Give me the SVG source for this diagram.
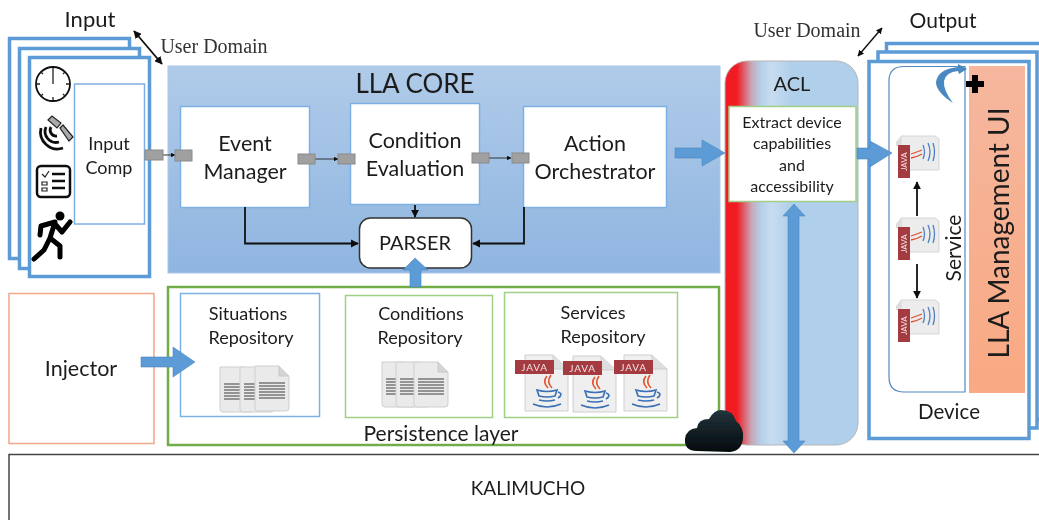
<svg xmlns="http://www.w3.org/2000/svg" width="1039" height="520" viewBox="0 0 1039 520">
<style>
text{font-family:Lato,"Liberation Sans",sans-serif;fill:#1c1c1c;text-anchor:middle}
.s{font-family:"Liberation Serif",serif;font-size:20px;fill:#333}
.frame{fill:#fff;stroke:#5b9bd5;stroke-width:3.5}
.box{fill:#fff;stroke:#7db0e4;stroke-width:1.5}
.grn{fill:#fff;stroke:#a0cf88;stroke-width:1.5}
.port{fill:#a0a0a0;stroke:#8a8a8a;stroke-width:1}
.big{fill:#5b9bd5;stroke:#4a88c0;stroke-width:.6}
.ln{fill:none;stroke:#111;stroke-width:1.8}
.thin{fill:none;stroke:#333;stroke-width:1}
.t21{font-size:21.500px}.t18{font-size:18px}
</style>
<defs>
<filter id="soft" x="0" y="0" width="100%" height="100%"><feGaussianBlur stdDeviation="0.45"/></filter>
<linearGradient id="core" x1="0" y1="0" x2="0" y2="1"><stop offset="0" stop-color="#b0cbe9"/><stop offset="1" stop-color="#8fb5e0"/></linearGradient>
<linearGradient id="acl" x1="0" y1="0" x2="1" y2="0"><stop offset="0" stop-color="#f01c24"/><stop offset=".09" stop-color="#f01c24"/><stop offset=".2" stop-color="#c8a8b8"/><stop offset=".27" stop-color="#b4d0ea"/><stop offset=".35" stop-color="#c8dcef"/><stop offset=".5" stop-color="#b0cfea"/><stop offset="1" stop-color="#b0cfea"/></linearGradient>
<linearGradient id="ui" x1="0" y1="0" x2="0" y2="1"><stop offset="0" stop-color="#f5b79e"/><stop offset="1" stop-color="#f9a983"/></linearGradient>
<linearGradient id="cloud" x1="0" y1="0" x2="0" y2="1"><stop offset="0" stop-color="#22343c"/><stop offset="1" stop-color="#050a0d"/></linearGradient>
<marker id="a" viewBox="0 0 10 10" refX="9" refY="5" markerWidth="4.500" markerHeight="4.500" orient="auto-start-reverse"><path d="M0 0L10 5L0 10z" fill="#111"/></marker>
<g id="doc"><path d="M0 0H24L34 10V42Q34 45 31 45H3Q0 45 0 42z" fill="#eaeaea" stroke="#cfcfcf"/><path d="M4 17H30M4 20H30M4 23H30M4 26H30M4 29H30M4 32H30" stroke="#777" stroke-width="1.600"/><path d="M24 0V10H34" fill="#d5d5d5" stroke="#c8c8c8"/></g>
<g id="jlarge"><path d="M10 0H38L53 14V56H10z" fill="#efefef" stroke="#cfcfcf"/><path d="M38 0V14H53" fill="#dedede" stroke="#cfcfcf"/><rect x="0" y="5" width="39" height="14" fill="#a33a3f"/><text x="19.500" y="16" style="font-size:10px;fill:#f3e3e3;letter-spacing:.8px">JAVA</text><path d="M32 21Q27 27 33 33M36 20Q31 27 37 33" fill="none" stroke="#e0532f" stroke-width="1.600"/><path d="M22 35Q32 38 42 35L40 41Q32 43 24 41zM24 45Q32 47 40 45M43 37Q49 39 43 43M18 49Q32 55 46 49" fill="none" stroke="#3a6fb5" stroke-width="1.600"/></g>
<g id="jsmall"><path d="M6 0H40L44 3V34H6z" fill="#ececec" stroke="#d5d5d5"/><path d="M6 0L1 6V10H6z" fill="#dcdcdc"/><rect x="3" y="9" width="12" height="33" fill="#a33a3f"/><text transform="translate(12 35) rotate(-90)" style="font-size:8px;fill:#f3e3e3;text-anchor:start">JAVA</text><path d="M16 18Q22 16 27 14M16 22Q22 21 27 18" fill="none" stroke="#e0532f" stroke-width="1.300"/><path d="M28 9Q31 16 28 23M33 7Q37 16 33 25M38 7Q41 16 38 25" fill="none" stroke="#4f80c4" stroke-width="1.300"/></g>
</defs>
<g filter="url(#soft)">
<rect width="1039" height="520" fill="#fff"/>
<g id="input-stack">
<rect class="frame" x="9.500" y="38.500" width="120" height="220"/>
<rect class="frame" x="19.500" y="48.500" width="120" height="220"/>
<rect class="frame" x="29.500" y="57.500" width="120" height="219"/>
<text x="90" y="27" style="font-size:22px">Input</text>
<g id="clock"><circle cx="53" cy="84" r="17" fill="#fff" stroke="#111" stroke-width="1.800"/><path d="M53 71V84M53 68v3M53 97v3M37 84h3M66 84h3M41 72l2 2M65 72l-2 2M41 96l2-2M65 96l-2-2" stroke="#222" stroke-width="1.300"/></g>
<g id="satellite"><path d="M41 128a17 17 0 0 0 22 20M46 127a11 11 0 0 0 13 15M51 127a6 6 0 0 0 6 9" fill="none" stroke="#111" stroke-width="2.800"/><path d="M48 120l4-4 9 7-4 5zM60 128l3-3 10 12-4 4z" fill="#aaa" stroke="#222" stroke-width="1.200"/></g>
<g id="checklist"><rect x="37" y="166" width="33" height="31" rx="4" fill="#fff" stroke="#111" stroke-width="2.500"/><path d="M52 174H65M52 181H65M52 188H65" stroke="#111" stroke-width="2.400"/><path d="M42 174l3 3 4-6M42 182h5v3h-5zM42 188h5v3h-5z" fill="none" stroke="#222" stroke-width="1.200"/></g>
<g id="runner"><circle cx="60" cy="216" r="4.500" fill="#000"/><path d="M55 222L41 226L40 235M55 222L50 238L60 246L60 257M50 238L44 250L34 259M55 224L62 232L70 222" fill="none" stroke="#000" stroke-width="5" stroke-linecap="round" stroke-linejoin="round"/></g>
<rect id="input-comp" class="box" x="74.500" y="84" width="70" height="140"/>
<text x="109" y="150" class="t18">Input</text><text x="109" y="174" class="t18">Comp</text>
<path d="M134 31L162 64" class="ln" marker-start="url(#a)" marker-end="url(#a)"/>
<text x="214" y="53" class="s">User Domain</text>
</g>
<g id="lla-core">
<rect x="168" y="66" width="552" height="207" fill="url(#core)" stroke="#a9c7e8"/>
<text x="415" y="93" style="font-size:26px">LLA CORE</text>
</g>
<g id="event-manager"><rect class="box" x="180.500" y="106.500" width="129" height="101"/><text x="245" y="151" class="t21">Event</text><text x="245" y="179" class="t21">Manager</text></g>
<g id="condition-evaluation"><rect class="box" x="350.500" y="103.500" width="129" height="101"/><text x="415" y="148" class="t21">Condition</text><text x="415" y="176" class="t21">Evaluation</text></g>
<g id="action-orchestrator"><rect class="box" x="523.500" y="106.500" width="143" height="101"/><text x="595" y="151" class="t21">Action</text><text x="595" y="179" class="t21">Orchestrator</text></g>
<g id="parser"><rect x="359.500" y="218" width="112" height="50" rx="11" fill="#fff" stroke="#333" stroke-width="1.500"/><text x="415" y="250" style="font-size:20px">PARSER</text></g>
<g id="persistence">
<rect x="168" y="287" width="551" height="158" fill="#fff" stroke="#70ad47" stroke-width="2.500"/>
<text x="441" y="441" style="font-size:21px">Persistence layer</text>
</g>
<g id="situations"><rect class="box" x="180.500" y="293.500" width="139" height="123"/><text x="248" y="320" class="t18">Situations</text><text x="251" y="344" class="t18">Repository</text>
<use href="#doc" x="220" y="367"/><use href="#doc" x="240" y="367"/><use href="#doc" x="255" y="366"/></g>
<g id="conditions"><rect class="grn" x="345.500" y="295.500" width="147" height="122"/><text x="421" y="320" class="t18">Conditions</text><text x="420" y="344" class="t18">Repository</text>
<use href="#doc" x="382" y="362"/><use href="#doc" x="396" y="362"/><use href="#doc" x="414" y="362"/></g>
<g id="services"><rect class="grn" x="504.500" y="292.500" width="173" height="125"/><text x="593" y="319" class="t18">Services</text><text x="603" y="343" class="t18">Repository</text>
<use href="#jlarge" x="515" y="355"/><use href="#jlarge" x="563" y="356"/><use href="#jlarge" x="614" y="355"/></g>
<g id="injector"><rect x="9" y="293.500" width="145" height="150" fill="#fff" stroke="#f0a888" stroke-width="1.500"/><text x="81" y="376" style="font-size:21.500px">Injector</text></g>
<g id="kalimucho"><path d="M9 520V454.500H1039" fill="#fff" stroke="#444" stroke-width="1.500"/><text x="528" y="495" style="font-size:19px">KALIMUCHO</text></g>
<g id="acl"><rect x="725" y="61" width="133" height="384" rx="22" fill="url(#acl)" stroke="#b5b5b5"/><text x="792" y="91" style="font-size:20px">ACL</text></g>
<g id="extract"><rect class="grn" x="729" y="106.500" width="127" height="95"/><text x="792" y="128" style="font-size:16px">Extract device</text><text x="792" y="149" style="font-size:16px">capabilities</text><text x="792" y="171" style="font-size:16px">and</text><text x="792" y="192" style="font-size:16px">accessibility</text></g>
<g id="cloud-icon"><path d="M697 451Q684 451 685 439Q686 429 697 428Q698 419 709 419Q714 410 721 410Q733 410 736 421Q744 427 743 438Q742 451 730 452z" fill="url(#cloud)"/></g>
<g id="output-stack">
<rect class="frame" x="886.500" y="43.500" width="160" height="376"/>
<rect class="frame" x="878" y="52" width="159" height="376"/>
<rect class="frame" x="869" y="61.500" width="160" height="377"/>
<text x="943" y="28" style="font-size:21px">Output</text>
<path d="M858 56L882 28" class="ln" style="stroke-width:1.400" marker-start="url(#a)" marker-end="url(#a)"/>
<text x="807" y="37" class="s">User Domain</text>
<g id="device"><path d="M904 66.500H965V392H904Q889 392 889 377V81Q889 66.500 904 66.500z" fill="#fff" stroke="#5588bb" stroke-width="1.200"/><text x="949" y="419" style="font-size:20.500px">Device</text><text transform="translate(961 248) rotate(-90)" style="font-size:21px">Service</text></g>
<g id="lla-ui"><rect x="969" y="66" width="56" height="327" fill="url(#ui)"/><text transform="translate(1009 233) rotate(-90)" style="font-size:28px">LLA Management UI</text></g>
<use href="#jsmall" x="895" y="136"/><use href="#jsmall" x="895" y="218"/><use href="#jsmall" x="895" y="300"/>
<path d="M917 216V182" class="ln" marker-end="url(#a)"/>
<path d="M917 264V298" class="ln" marker-end="url(#a)"/>
<path d="M953 103Q936 92 936 82Q938 69 958 67L958 64L967 69L959 74L958 71Q946 72 944 81Q943 90 953 103z" fill="#4a88c0"/>
<path d="M972 75h6v6h6v6h-6v6h-6v-6h-6v-6h6z" fill="#000"/>
</g>
<g id="connectors">
<path d="M163 155H175" class="thin" marker-end="url(#a)"/>
<path d="M315 159H338" class="thin" marker-end="url(#a)"/>
<path d="M489 158H511" class="thin" marker-end="url(#a)"/>
<rect class="port" x="145" y="150" width="18" height="10"/><rect class="port" x="175" y="150" width="17" height="11"/>
<rect class="port" x="298" y="154" width="17" height="10"/><rect class="port" x="338" y="154" width="17" height="10"/>
<rect class="port" x="472" y="153" width="17" height="10"/><rect class="port" x="512" y="153" width="17" height="10"/>
<path d="M245 207V243.500H358" class="ln" marker-end="url(#a)"/>
<path d="M415 205V217" class="ln" marker-end="url(#a)"/>
<path d="M524 207V243.500H473" class="ln" marker-end="url(#a)"/>
<path d="M410 287V270L403 270L415 258L428 270H421V287z" class="big"/>
<path d="M141 357H173V347L195 362L173 377V367H141z" class="big"/>
<path d="M675 148H702V140L725 153L702 166V158H675z" class="big"/>
<path d="M857 148H870V141L892 153L870 167V159H857z" class="big"/>
<path d="M788 216H783L794 204L805 216H799V441H805L794 453L783 441H788z" class="big"/>
</g>
</g>
</svg>
